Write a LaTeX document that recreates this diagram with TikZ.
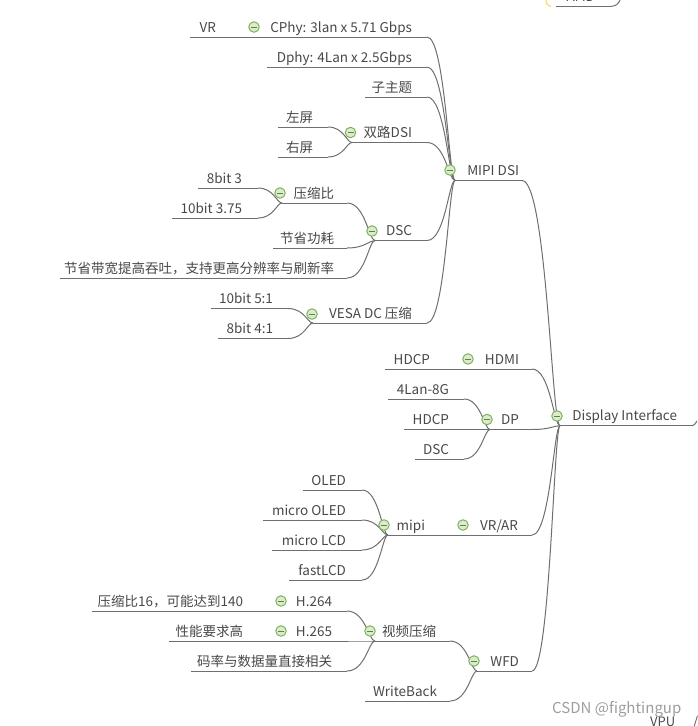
\documentclass[tikz,border=0pt]{standalone}
\usepackage{fontspec}
\setmainfont{Noto Sans CJK SC}
\usetikzlibrary{calc}
\definecolor{wirecol}{HTML}{6F6F6F}
\definecolor{textcol}{HTML}{484848}
\definecolor{togline}{HTML}{7DB45A}
\definecolor{togfill}{HTML}{DCEBCB}
\definecolor{togdash}{HTML}{5E7F52}
\tikzset{
  wire/.style={draw=wirecol,line width=1pt},
  topictext/.style={inner sep=0pt,outer sep=0pt,text=textcol,font=\fontsize{13.5}{15}\selectfont},
  togglecirc/.style={circle,draw=togline,fill=togfill,line width=1pt,minimum size=10.5pt,inner sep=0pt},
  togminus/.style={draw=togdash,line width=1pt}
}
\newcommand{\topicnode}[6]{%
  \node[topictext,anchor=south east] (#1) at (#3,#4) {\makebox[\dimexpr #3pt-#2pt\relax][r]{\rule[-5pt]{0pt}{16pt}#6\hspace{\dimexpr #3pt-#5pt\relax}}};
  \draw[wire] (#1.south west) -- (#1.south east);
}
\newcommand{\linkto}[2]{%
  \draw[wire] (#1.south east) .. controls ($(#1.south east)!.65!(#2.south west |- #1.south east)$) and ($(#2.south west)!.22!(#1.south east |- #2.south west)$) .. (#2.south west);
}
\newcommand{\togglemark}[3]{%
  \node[togglecirc] (#1) at (#2,#3) {};
  \draw[togminus] ([xshift=-3pt]#1.center) -- ([xshift=3pt]#1.center);
}
\begin{document}
\begin{tikzpicture}[x=1pt,y=-1pt]
\useasboundingbox (0,0) rectangle (697,726);
\clip (0,0) rectangle (697,726);
% top remnant
\topicnode{amd}{556}{610}{6.5}{595}{AMD}
\coordinate (amdout) at (620,0);
\draw[wire] (amd.south east) .. controls (616,6.5) and (619,3) .. (amdout);
\coordinate (brA) at (546,0);
\coordinate (brB) at (551,6.5);
\draw[draw=orange!50!yellow!70,line width=1pt] (brA) .. controls (546,4) and (548,6.5) .. (brB);
% root
\topicnode{display}{560}{692}{425.7}{677}{Display Interface}
\coordinate (dispout) at (697,421);
\draw[wire] (display.south east) .. controls (694,425.7) and (695,424) .. (dispout);
% MIPI
\topicnode{mipidsi}{455}{522}{180.5}{519}{MIPI DSI}
\topicnode{vr}{190}{240}{37}{216}{VR}
\topicnode{cphy}{240}{427}{37}{412}{CPhy: 3lan x 5.71 Gbps}
\topicnode{dphy}{267}{427}{67}{412}{Dphy: 4Lan x 2.5Gbps}
\topicnode{zizhuti}{365}{427}{97}{412}{子主题}
\topicnode{dual}{352}{427}{142.5}{412}{双路DSI}
\topicnode{left}{278}{328}{127}{313}{左屏}
\topicnode{right}{278}{328}{157}{313}{右屏}
\topicnode{dsc}{375}{427}{240.5}{412}{DSC}
\topicnode{ratio}{282}{347}{203}{334}{压缩比}
\topicnode{eightb}{198}{258}{188}{242}{8bit 3}
\topicnode{tenb}{172}{258}{218}{242}{10bit 3.75}
\topicnode{power}{273}{347}{248}{334}{节省功耗}
\topicnode{band}{60}{347}{278}{334}{节省带宽提高吞吐，支持更高分辨率与刷新率}
\topicnode{vesa}{313}{427}{323}{412}{VESA DC 压缩}
\topicnode{tenfive}{211}{288}{308.5}{273}{10bit 5:1}
\topicnode{eightfour}{218}{288}{338.5}{273}{8bit 4:1}
% HDMI, DP
\topicnode{hdcpa}{385}{455}{369}{430}{HDCP}
\topicnode{hdmi}{455}{532}{369}{519}{HDMI}
\topicnode{dp}{490}{532}{429.5}{519}{DP}
\topicnode{lan}{388}{464}{399}{449}{4Lan-8G}
\topicnode{hdcpb}{404}{464}{429.5}{449}{HDCP}
\topicnode{dscb}{415}{464}{459}{449}{DSC}
% VR/AR
\topicnode{mipi}{388}{450}{535}{425}{mipi}
\topicnode{vrar}{450}{532}{535}{518}{VR/AR}
\topicnode{oled}{303}{362}{490}{346}{OLED}
\topicnode{microoled}{263}{362}{520}{346}{micro OLED}
\topicnode{microlcd}{272}{362}{550}{346}{micro LCD}
\topicnode{fastlcd}{289}{362}{580}{346}{fastLCD}
% WFD
\topicnode{wfd}{477}{532}{671}{519}{WFD}
\topicnode{video}{375}{450}{641}{436}{视频压缩}
\topicnode{writeback}{365}{450}{701}{437}{WriteBack}
\topicnode{ratioh}{92}{258}{611}{243}{压缩比16，可能达到140}
\topicnode{hfour}{258}{347}{611}{332}{H.264}
\topicnode{perf}{169}{258}{641}{243}{性能要求高}
\topicnode{hfive}{258}{347}{641}{332}{H.265}
\topicnode{rate}{191}{347}{671}{332}{码率与数据量直接相关}
% connectors
\linkto{vr}{cphy}
\linkto{cphy}{mipidsi}
\linkto{dphy}{mipidsi}
\linkto{zizhuti}{mipidsi}
\linkto{dual}{mipidsi}
\linkto{left}{dual}
\linkto{right}{dual}
\linkto{dsc}{mipidsi}
\linkto{ratio}{dsc}
\linkto{eightb}{ratio}
\linkto{tenb}{ratio}
\linkto{power}{dsc}
\linkto{band}{dsc}
\linkto{vesa}{mipidsi}
\linkto{tenfive}{vesa}
\linkto{eightfour}{vesa}
\linkto{mipidsi}{display}
\linkto{hdcpa}{hdmi}
\linkto{hdmi}{display}
\linkto{dp}{display}
\linkto{lan}{dp}
\linkto{hdcpb}{dp}
\linkto{dscb}{dp}
\linkto{mipi}{vrar}
\linkto{vrar}{display}
\linkto{oled}{mipi}
\linkto{microoled}{mipi}
\linkto{microlcd}{mipi}
\linkto{fastlcd}{mipi}
\linkto{wfd}{display}
\linkto{video}{wfd}
\linkto{writeback}{wfd}
\linkto{ratioh}{hfour}
\linkto{hfour}{video}
\linkto{perf}{hfive}
\linkto{hfive}{video}
\linkto{rate}{video}
% toggles
\togglemark{tcphy}{254}{27}
\togglemark{tdual}{350.5}{132.5}
\togglemark{tmipidsi}{450}{170}
\togglemark{tratio}{280}{193}
\togglemark{tdsc}{372}{231}
\togglemark{tvesa}{312}{314}
\togglemark{thdmi}{468}{359}
\togglemark{tdp}{487}{419.5}
\togglemark{tdisplay}{557}{416}
\togglemark{tmipi}{384}{525}
\togglemark{tvrar}{463}{525}
\togglemark{thfour}{281}{601}
\togglemark{thfive}{281}{631}
\togglemark{tvideo}{370}{631}
\togglemark{twfd}{474}{661}
% watermark and bottom remnants
\node[inner sep=0pt,anchor=base west,text=black!70,font=\fontsize{13}{15}\selectfont] (vpu) at (650,726) {VPU};
\node[inner sep=0pt,anchor=base west,text=black!70,font=\fontsize{13}{15}\selectfont] (slash) at (693,726) {/};
\node[inner sep=0pt,anchor=base west,text=black!38,font=\fontsize{15}{17}\selectfont] (mark) at (552,713) {CSDN @fightingup};
\end{tikzpicture}
\end{document}
